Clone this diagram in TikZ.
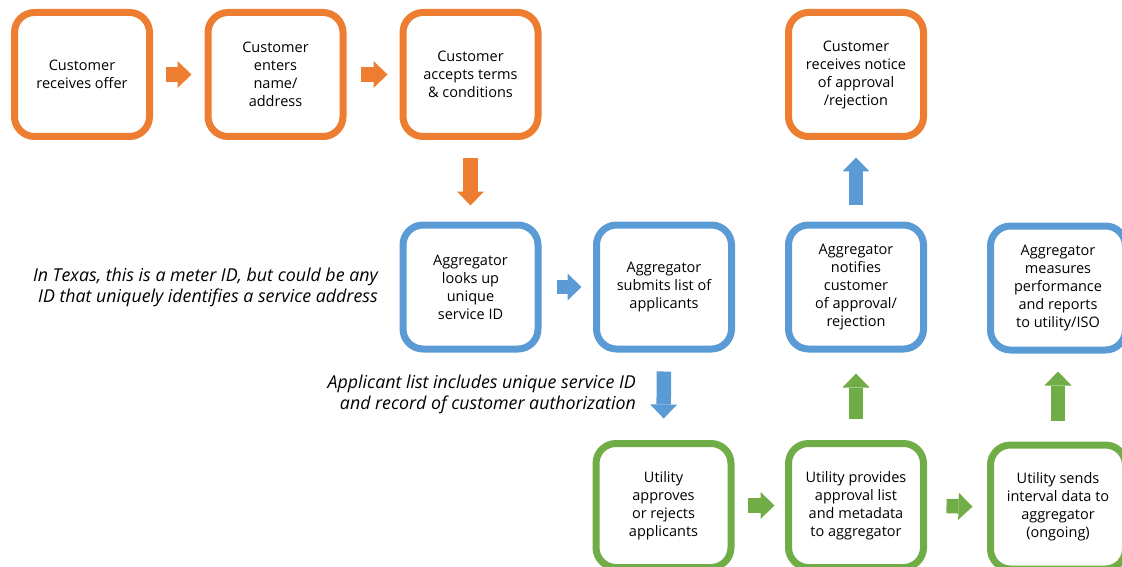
\documentclass[tikz,border=0pt]{standalone}
\usepackage{fontspec}
\setmainfont{Open Sans}
\usetikzlibrary{arrows.meta}
\definecolor{corange}{HTML}{ED7D31}
\definecolor{cblue}{HTML}{5B9BD5}
\definecolor{cgreen}{HTML}{70AD47}
\begin{document}
\begin{tikzpicture}[x=1pt,y=-1pt,
 box/.style={draw=#1, line width=7pt, rounded corners=20pt, minimum width=135pt, minimum height=124pt, inner sep=0pt, align=center, font=\fontsize{14.5}{18}\selectfont, fill=white},
 blk/.style={draw=#1, line width=14.5pt, -{Triangle[width=27pt,length=14pt,line width=0pt]}},
 note/.style={font=\fontsize{17.8}{21}\selectfont\itshape, align=right, inner sep=0pt}]
\useasboundingbox (0,0) rectangle (1122,567);
\node[box=corange] (c1) at (82,74.5) {Customer\\receives offer};
\node[box=corange] (c2) at (275.5,74.5) {Customer\\enters\\name/\\address};
\node[box=corange] (c3) at (470.5,74.5) {Customer\\accepts terms\\\& conditions};
\node[box=corange] (c4) at (856,74.5) {Customer\\receives notice\\of approval\\/rejection};
\node[box=cblue] (a1) at (470.5,287) {Aggregator\\looks up\\unique\\service ID};
\node[box=cblue] (a2) at (664,287) {Aggregator\\submits list of\\applicants};
\node[box=cblue] (a3) at (856,287) {Aggregator\\notifies\\customer\\of approval/\\rejection};
\node[box=cblue] (a4) at (1058,288) {Aggregator\\measures\\performance\\and reports\\to utility/ISO};
\node[box=cgreen] (u1) at (663.5,505.5) {Utility\\approves\\or rejects\\applicants};
\node[box=cgreen] (u2) at (856,505.5) {Utility provides\\approval list\\and metadata\\to aggregator};
\node[box=cgreen] (u3) at (1058,507) {Utility sends\\interval data to\\aggregator\\(ongoing)};
\draw[blk=corange, shorten <=12.5pt, shorten >=13pt] (c1.east) -- (c2.west);
\draw[blk=corange, shorten <=14pt, shorten >=12pt] (c2.east) -- (c3.west);
\draw[blk=corange, shorten <=18.5pt, shorten >=16pt] (c3.south) -- (a1.north);
\draw[blk=cblue, shorten <=15pt, shorten >=11.5pt] (a1.east) -- (a2.west);
\draw[blk=cblue, shorten <=19pt, shorten >=21.5pt] (a2.south) -- (u1.north);
\draw[blk=cblue, shorten <=17pt, shorten >=17.5pt] (a3.north) -- (c4.south);
\draw[blk=cgreen, shorten <=13.5pt, shorten >=10.5pt] (u1.east) -- (u2.west);
\draw[blk=cgreen, shorten <=19.5pt, shorten >=14.5pt] (u2.east) -- (u3.west);
\draw[blk=cgreen, shorten <=21pt, shorten >=21pt] (u2.north) -- (a3.south);
\draw[blk=cgreen, shorten <=21pt, shorten >=18pt] (u3.north) -- (a4.south);
\node[note, anchor=east] (n1) at (378,287) {In Texas, this is a meter ID, but could be any\\ID that uniquely identifies a service address};
\node[note, anchor=east] (n2) at (636,394.5) {Applicant list includes unique service ID\\and record of customer authorization};
\end{tikzpicture}
\end{document}
